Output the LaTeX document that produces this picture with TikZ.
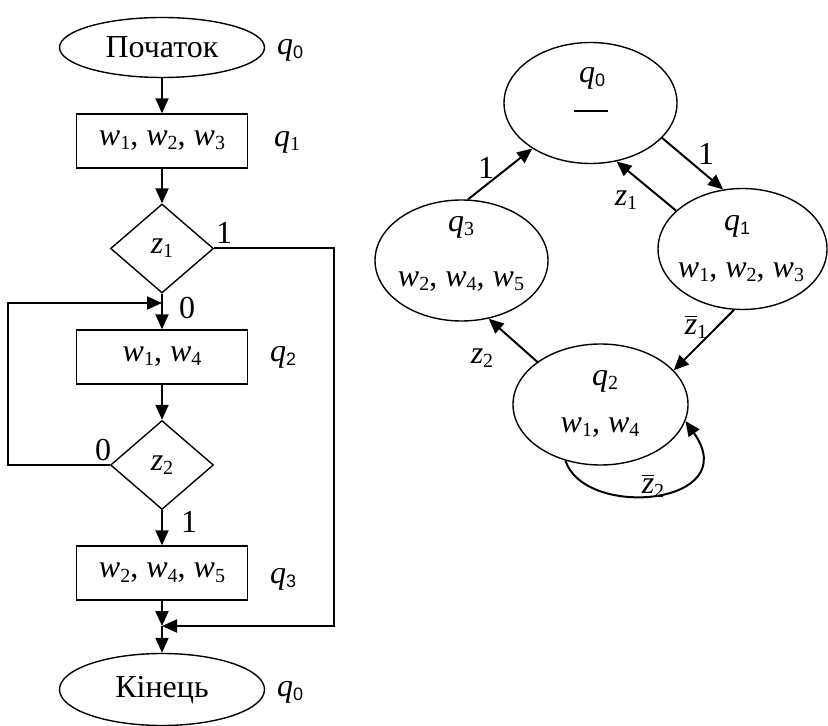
\documentclass[tikz,border=0pt]{standalone}
\usepackage{fontspec}
\setmainfont{Liberation Serif}
\setsansfont{Liberation Sans}
\usetikzlibrary{positioning, arrows.meta, shapes.geometric}

% lowered indices
\newcommand{\lowix}[1]{\raisebox{-0.28ex}{\fontsize{10}{12}\selectfont #1}}
\newcommand{\lowsf}[1]{\raisebox{-0.28ex}{\fontsize{9}{11}\selectfont\sffamily #1}}
\newcommand{\wv}[1]{\textit{w}\lowix{#1}}
\newcommand{\qv}[1]{\textit{q}\lowix{#1}}
\newcommand{\qsf}[1]{\textit{q}\lowsf{#1}}
\newcommand{\zv}[1]{\textit{z}\lowix{#1}}
\newcommand{\zbar}[1]{$\overline{\hbox{\textit{z}}}$\lowix{#1}}

\begin{document}
\begin{tikzpicture}[x=0.5pt, y=-0.5pt, font=\fontsize{16}{19}\selectfont,
    term/.style={ellipse, draw, line width=0.7pt, minimum width=102.5pt,
                 minimum height=30pt, inner sep=0pt},
    opbox/.style={rectangle, draw, line width=0.7pt, minimum width=85.5pt,
                  minimum height=27pt, inner sep=0pt},
    cond/.style={diamond, draw, line width=0.7pt, minimum width=51.5pt,
                 minimum height=44.5pt, inner sep=0pt},
    stnode/.style={ellipse, draw, line width=0.7pt, minimum width=86.5pt,
                   minimum height=60.5pt, inner sep=0pt},
    flow/.style={-{Triangle[length=7.5pt, width=6.5pt]}, line width=1pt}
]
    \useasboundingbox (0,0) rectangle (828,726);

    % Flowchart
    \node[term] (start) at (162,47.5) {Початок};
    \node[opbox] (b1) at (162,141) {\wv{1}, \wv{2}, \wv{3}};
    \node[cond] (d1) at (162,248.5) {\zv{1}};
    \node[opbox] (b2) at (162,357) {\wv{1}, \wv{4}};
    \node[cond] (d2) at (162,465) {\zv{2}};
    \node[opbox] (b3) at (162,573) {\wv{2}, \wv{4}, \wv{5}};
    \node[term, minimum height=36pt] (stop) at (162,689.5) {Кінець};
    \coordinate (j1) at (162,303);
    \coordinate (j2) at (162,626);

    \node (qa) at (290,50) {\qsf{0}};
    \node (qb) at (287,142) {\qv{1}};
    \node (qc) at (283,357) {\qsf{2}};
    \node (qd) at (283,579) {\qsf{3}};
    \node (qe) at (290,692) {\qsf{0}};

    \draw[flow] (start) -- (b1);
    \draw[flow] (b1) -- (d1);
    \draw[flow] (d1) -- (b2);
    \draw[flow] (b2) -- (d2);
    \draw[flow] (d2) -- (b3);
    \draw[flow] (b3) -- (j2);
    \draw[flow] (j2) -- (stop);
    \draw[flow] (d2.west) -- ++(-102,0) |- (j1);
    \draw[flow] (d1.east) -- ++(119.5,0) |- (j2);

    \node (la) at (224,233) {1};
    \node (lb) at (187,308) {0};
    \node (lc) at (103,450) {0};
    \node (ld) at (189,522) {1};

    % State graph
    \node[stnode] (s0) at (590.5,103) {};
    \node[stnode] (s3) at (461.5,260.5) {};
    \node[stnode, minimum width=84.5pt] (s1) at (742.5,249) {};
    \node[stnode, minimum width=87.5pt] (s2) at (600.5,404.5) {};

    \node (t0) at (592,78) {\qsf{0}};
    \node[inner sep=0pt] (t0b) at (591,111) {\rule{17pt}{0.9pt}};
    \node (t3) at (461,227) {\qv{3}};
    \node (u3) at (461,282) {\wv{2}, \wv{4}, \wv{5}};
    \node (t1) at (737,226) {\qsf{1}};
    \node (u1) at (741,273) {\wv{1}, \wv{2}, \wv{3}};
    \node (t2) at (605,381) {\qv{2}};
    \node (u2) at (600,428) {\wv{1}, \wv{4}};

    \draw[flow] (s3.84) -- (s0.218);
    \draw[flow] (s0.334) -- (s1.108);
    \draw[flow] (s1.150) -- (s0.294);
    \draw[flow] (s1.262) -- (s2.25);
    \draw[flow] (s2.146) -- (s3.295);
    \draw[flow] (s2.238) .. controls (585,520) and (745,505) .. (s2.349);

    \node (e1) at (486,168) {1};
    \node (e2) at (706,154) {1};
    \node (e3) at (626,200) {\zv{1}};
    \node (e4) at (696,327) {\zbar{1}};
    \node (e5) at (482,358) {\zv{2}};
    \node (e6) at (653,486) {\zbar{2}};
\end{tikzpicture}
\end{document}
